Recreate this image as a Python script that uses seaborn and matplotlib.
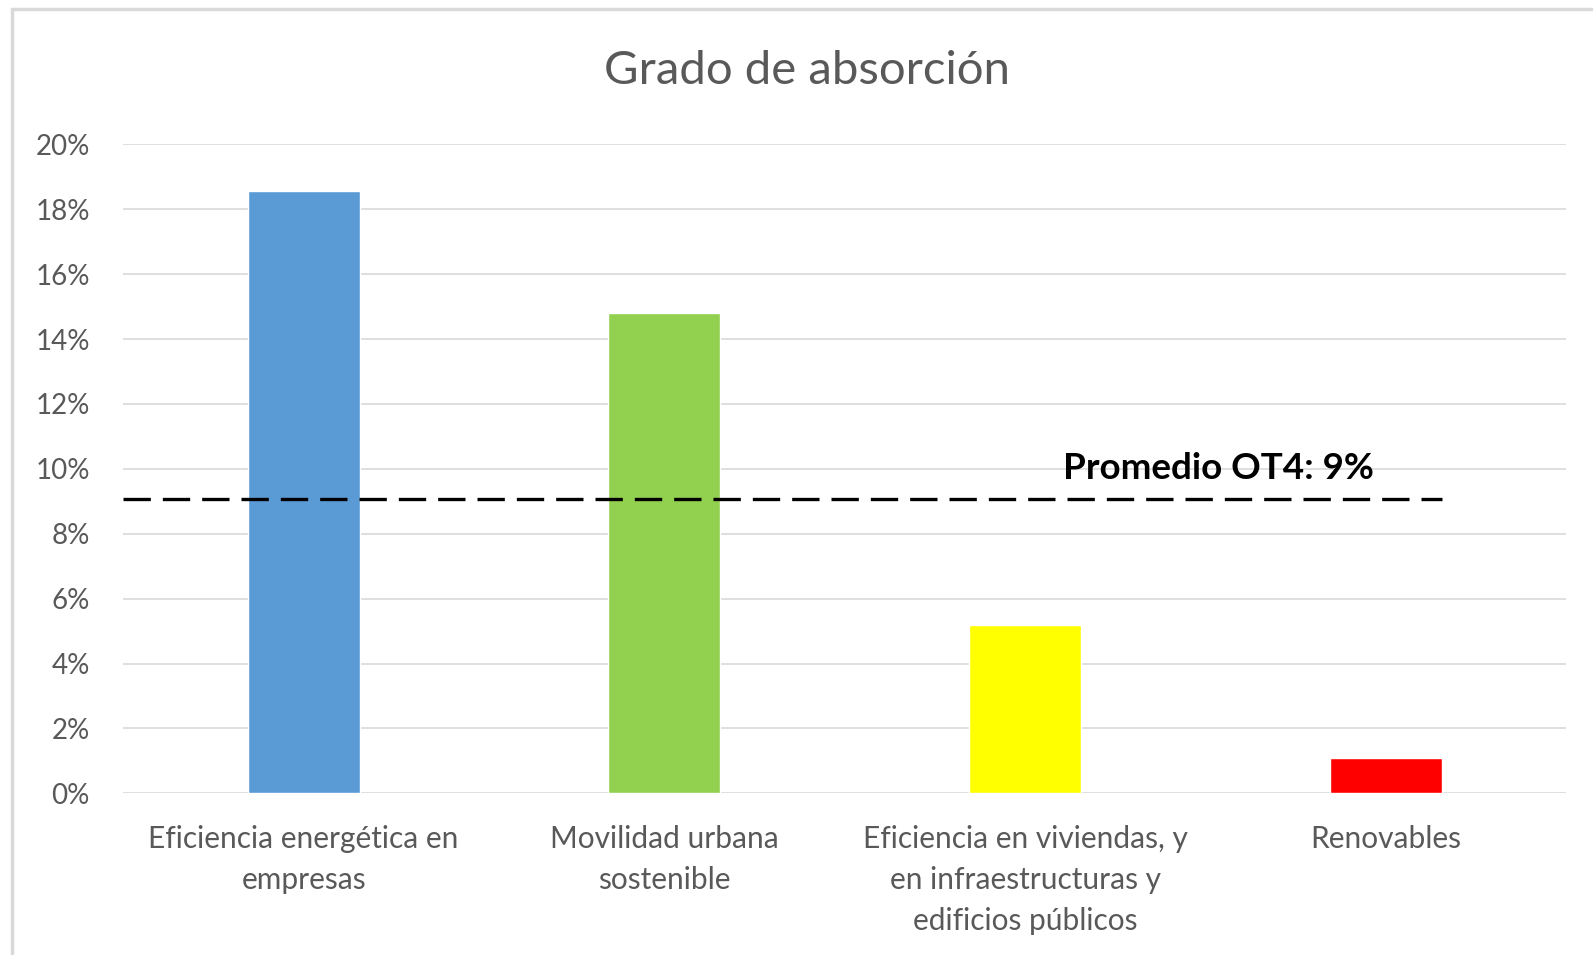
import matplotlib
matplotlib.use("Agg")
import matplotlib.pyplot as plt
import matplotlib.ticker as mticker
from matplotlib.patches import Rectangle
import pandas as pd
import seaborn as sns

categorias = [
    "Eficiencia energética en\nempresas",
    "Movilidad urbana\nsostenible",
    "Eficiencia en viviendas, y\nen infraestructuras y\nedificios públicos",
    "Renovables",
]
absorcion = [18.55, 14.8, 5.2, 1.08]
colores = ["#5B9BD5", "#92D050", "#FFFF00", "#FF0000"]
promedio = 9.07
promedio_texto = "Promedio OT4: 9%"
y_ticks = list(range(0, 21, 2))

df = pd.DataFrame({"categoria": categorias, "absorcion": absorcion})

sns.set_style("white")
plt.rcParams["font.family"] = ["Lato", "DejaVu Sans"]

fig = plt.figure(figsize=(15.93, 9.55), dpi=100)
ax = fig.add_axes([0.0774, 0.1693, 0.9057, 0.6796])

sns.barplot(data=df, x="categoria", y="absorcion", hue="categoria",
            palette=colores, legend=False, width=0.31, saturation=1,
            ax=ax, zorder=3)

bar_w = 0.31
ax.plot([-0.5, len(categorias) - 1 + bar_w / 2], [promedio, promedio],
        color="black", lw=2.4, dashes=(8.2, 3.6), zorder=4)
ax.text(2.537, 10.0, promedio_texto, ha="center", va="center",
        fontsize=26.5, fontweight="bold", color="black", zorder=5)

ax.set_xlim(-0.5, len(categorias) - 0.5)
ax.set_ylim(0, 20)
ax.set_yticks(y_ticks)
ax.yaxis.set_major_formatter(mticker.FuncFormatter(lambda v, p: f"{int(v)}%"))
ax.grid(axis="y", color="#d9d9d9", lw=1.2, zorder=0)
ax.grid(axis="x", visible=False)
for s in ax.spines.values():
    s.set_visible(False)
ax.tick_params(axis="y", length=0, labelsize=20, colors="#595959", pad=24)
ax.tick_params(axis="x", length=0, labelsize=21.5, colors="#595959", pad=23)
for lbl in ax.get_xticklabels():
    lbl.set_linespacing(1.55)
ax.set_xlabel("")
ax.set_ylabel("")

fig.text(807 / 1593, 1 - 71 / 955, "Grado de absorción", ha="center",
         va="center", fontsize=34, color="#595959")

fig.patches.append(Rectangle((11.5 / 1593, -0.05), 1.2, 1.05 - 9.5 / 955,
                             transform=fig.transFigure, fill=False,
                             edgecolor="#d9d9d9", lw=2.5))

fig.savefig("out.png", dpi=100)
plt.close(fig)
